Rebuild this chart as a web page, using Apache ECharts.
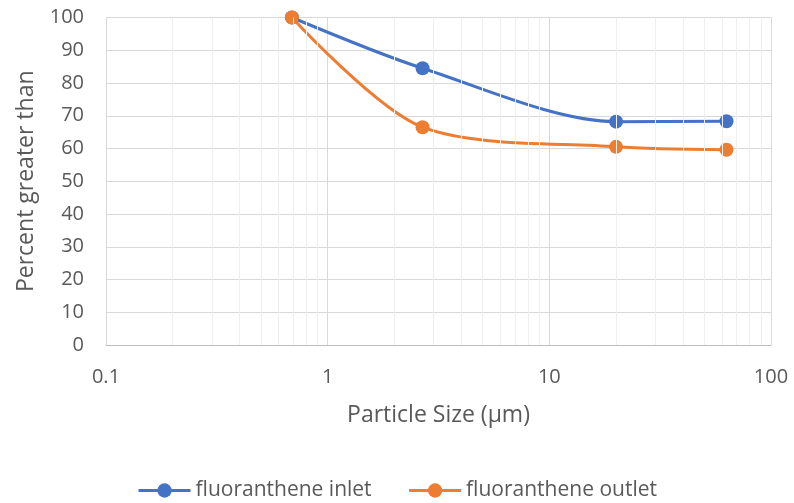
<!DOCTYPE html>
<html>
<head>
<meta charset="utf-8">
<script src="https://cdn.jsdelivr.net/npm/echarts@6/dist/echarts.min.js"></script>
<style>html,body{margin:0;padding:0;background:#fff}#c{width:794px;height:503px}</style>
</head>
<body>
<div id="c"></div>
<script>
const particleSize = [0.69, 2.68, 20, 63];
const inlet = [100, 84.5, 68.2, 68.3];
const outlet = [100, 66.5, 60.5, 59.6];
const seriesNames = ['fluoranthene inlet', 'fluoranthene outlet'];
const minorGridValues = [0.2,0.3,0.4,0.5,0.6,0.7,0.8,0.9,2,3,4,5,6,7,8,9,20,30,40,50,60,70,80,90];
const xAxisTitle = 'Particle Size (µm)';
const yAxisTitle = 'Percent greater than';

const font = '"Open Sans", sans-serif';
const txt = '#595959';
const chart = echarts.init(document.getElementById('c'));
chart.setOption({
  animation: false,
  grid: {left: 106, right: 23, top: 17.5, bottom: 158, containLabel: false},
  xAxis: {
    type: 'log', logBase: 10, min: 0.1, max: 100,
    name: xAxisTitle, nameLocation: 'middle', nameGap: 59,
    nameTextStyle: {color: txt, fontSize: 23, fontFamily: font},
    axisLine: {show: true, lineStyle: {color: '#bfbfbf', width: 1}},
    axisTick: {show: false},
    axisLabel: {color: txt, fontSize: 20, margin: 22, fontFamily: font, formatter: v => String(v)},
    splitLine: {show: true, lineStyle: {color: '#d9d9d9', width: 1}}
  },
  yAxis: {
    type: 'value', min: 0, max: 100, interval: 10,
    name: yAxisTitle, nameLocation: 'middle', nameGap: 68,
    nameTextStyle: {color: txt, fontSize: 23, fontFamily: font},
    axisLine: {show: true, lineStyle: {color: '#d9d9d9', width: 1}},
    axisTick: {show: false},
    axisLabel: {color: txt, fontSize: 20, margin: 22, fontFamily: font},
    splitLine: {show: true, lineStyle: {color: '#d9d9d9', width: 1}}
  },
  legend: {
    top: 475, left: 'center', itemGap: 36, itemWidth: 52, itemHeight: 18,
    lineStyle: {width: 3},
    textStyle: {color: txt, fontSize: 21, fontFamily: font},
    data: seriesNames
  },
  series: [
    {
      name: 'minor', type: 'line', data: [], silent: true,
      markLine: {
        silent: true, symbol: 'none', label: {show: false},
        lineStyle: {color: '#efefef', width: 1, type: 'solid'},
        emphasis: {disabled: true},
        data: minorGridValues.map(v => ({xAxis: v}))
      },
      z: 0
    },
    {
      name: seriesNames[0], type: 'line', smooth: 0.3,
      data: particleSize.map((x, i) => [x, inlet[i]]),
      symbol: 'circle', symbolSize: 14,
      lineStyle: {color: '#4472c4', width: 3},
      itemStyle: {color: '#4472c4'}, z: 3
    },
    {
      name: seriesNames[1], type: 'line', smooth: 0.3,
      data: particleSize.map((x, i) => [x, outlet[i]]),
      symbol: 'circle', symbolSize: 14,
      lineStyle: {color: '#ed7d31', width: 3},
      itemStyle: {color: '#ed7d31'}, z: 4
    }
  ]
});
</script>
</body>
</html>
